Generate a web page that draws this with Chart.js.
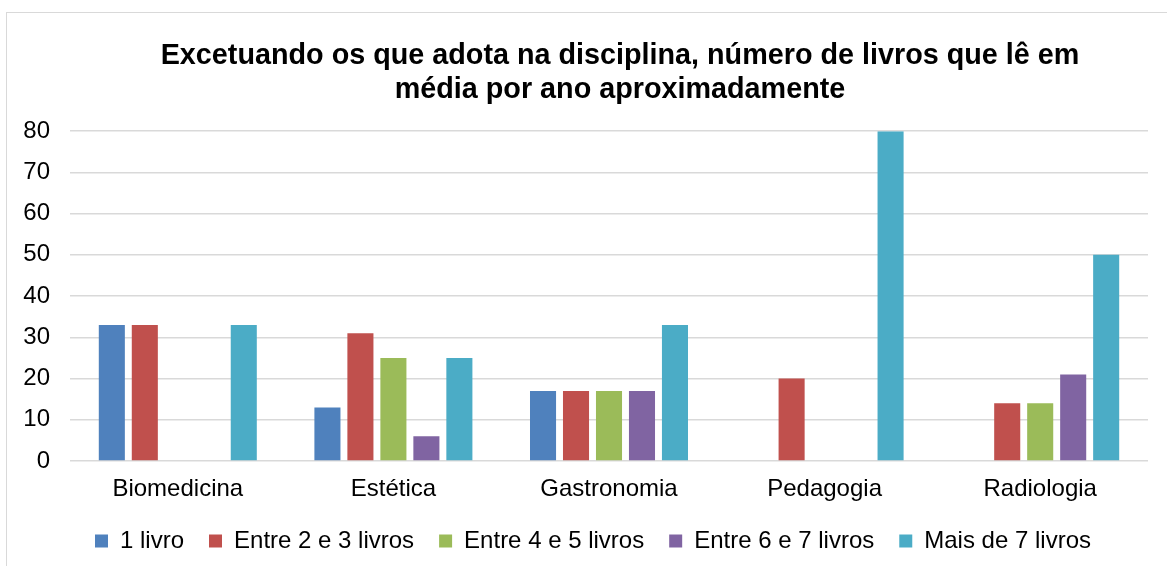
<!DOCTYPE html>
<html>
<head>
<meta charset="utf-8">
<script src="https://cdn.jsdelivr.net/npm/chart.js@4.4.0/dist/chart.umd.min.js"></script>
<style>
  html, body { margin: 0; padding: 0; background: #fff; overflow: hidden; width: 1167px; height: 566px; }
  #box { position: absolute; left: 6px; top: 12px; width: 1214px; height: 553px;
         border-left: 1px solid #d9d9d9; border-top: 1px solid #d9d9d9; }
  #chart { display: block; }
</style>
</head>
<body>
<div id="box"><canvas id="chart" width="1214" height="553"></canvas></div>
<script>
// categories and series
const categories = ["Biomedicina", "Estética", "Gastronomia", "Pedagogia", "Radiologia"];
const seriesNames = ["1 livro", "Entre 2 e 3 livros", "Entre 4 e 5 livros", "Entre 6 e 7 livros", "Mais de 7 livros"];
const umLivro = [33, 13, 17, 0, 0];
const entre2e3 = [33, 31, 17, 20, 14];
const entre4e5 = [0, 25, 17, 0, 14];
const entre6e7 = [0, 6, 17, 0, 21];
const mais7 = [33, 25, 33, 80, 50];
const colors = ["#4f81bd", "#c0504d", "#9bbb59", "#8064a2", "#4bacc6"];
const yTicks = [0, 10, 20, 30, 40, 50, 60, 70, 80];

const font = "'Liberation Sans', Arial, sans-serif";
const seriesValues = [umLivro, entre2e3, entre4e5, entre6e7, mais7];

new Chart(document.getElementById("chart"), {
  type: "bar",
  data: {
    labels: categories,
    datasets: seriesNames.map((name, i) => ({
      label: name,
      data: seriesValues[i],
      backgroundColor: colors[i],
      barPercentage: 0.79,
      categoryPercentage: 0.765
    }))
  },
  options: {
    responsive: false,
    animation: false,
    layout: { padding: { left: 12, right: 0, top: 0, bottom: 3 } },
    plugins: {
      title: {
        display: true,
        text: ["Excetuando os que adota na disciplina, número de livros que lê em", "média por ano aproximadamente"],
        color: "#000",
        font: { family: font, size: 28.75, weight: "bold", lineHeight: 1.15 },
        padding: { top: 27, bottom: 25 }
      },
      legend: {
        position: "bottom",
        fullSize: false,
        align: "start",
        labels: {
          color: "#000",
          font: { family: font, size: 24 },
          boxWidth: 13,
          boxHeight: 13,
          padding: 25
        }
      },
      tooltip: { enabled: false }
    },
    scales: {
      x: {
        grid: { display: false, drawTicks: false },
        border: { display: false },
        afterFit: (s) => { s.height = 43; },
        ticks: { color: "#000", font: { family: font, size: 24 }, padding: 14 }
      },
      y: {
        min: 0,
        max: 80,
        afterBuildTicks: (s) => { s.ticks = yTicks.map((v) => ({ value: v })); },
        afterFit: (s) => { s.width = 51; },
        grid: { color: "#d9d9d9", lineWidth: 1.5, drawTicks: false },
        border: { display: false },
        ticks: { color: "#000", font: { family: font, size: 24 }, padding: 20 }
      },
      // empty right axis that only reserves room, so the title centres like the original
      pad: {
        position: "right",
        display: true,
        grid: { display: false },
        border: { display: false },
        ticks: { display: false },
        afterFit: (s) => { s.width = 73; }
      }
    }
  }
});
</script>
</body>
</html>
